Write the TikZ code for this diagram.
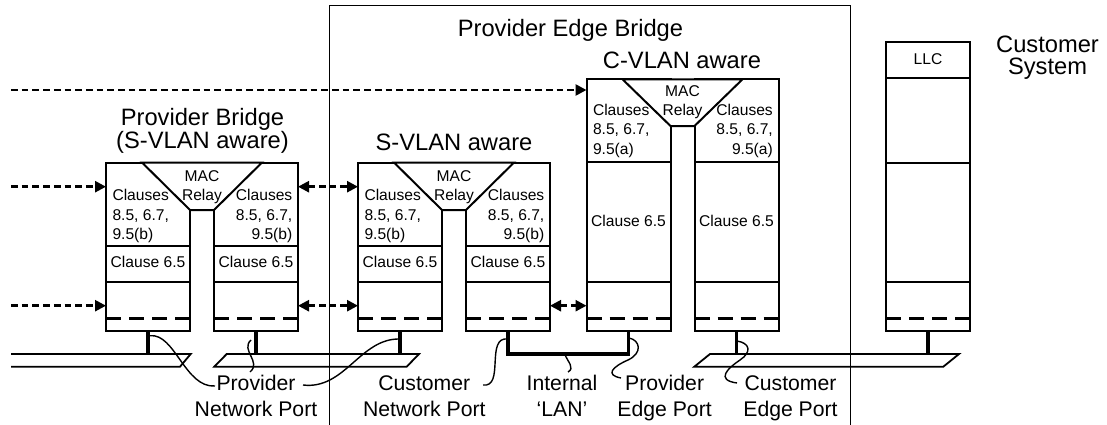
\documentclass[tikz,border=0pt]{standalone}
\usepackage{fontspec}
\setmainfont{Liberation Sans}
\usetikzlibrary{arrows.meta,positioning,calc}
\tikzset{
    port/.style={
        draw,
        rectangle,
        line width=2pt,
        minimum width=84pt,
        inner sep=0pt,
        outer sep=0pt,
        anchor=north west
    },
    relay/.style={
        draw,
        fill=white,
        line width=2pt
    },
    row/.style={line width=2pt},
    phy/.style={line width=3pt, dash pattern=on 15pt off 8pt},
    stem/.style={line width=3.3pt},
    lan/.style={line width=1.8pt, line join=miter},
    flow/.style={
        line width=2.5pt,
        dash pattern=on 6.7pt off 4pt,
        -{Triangle[length=11pt,width=11pt]}
    },
    biflow/.style={
        flow,
        {Triangle[length=11pt,width=11pt]}-{Triangle[length=11pt,width=11pt]}
    },
    title/.style={font=\fontsize{23.7}{22.6}\selectfont, align=center, inner sep=0pt, anchor=base},
    txt/.style={font=\fontsize{15.6}{19.3}\selectfont, inner sep=0pt},
    caption/.style={font=\fontsize{21.2}{26}\selectfont, align=center, inner sep=0pt, anchor=base},
    leader/.style={line width=1.4pt},
}

\begin{document}
\begin{tikzpicture}[x=1pt, y=-1pt]
    \useasboundingbox (0,0) rectangle (1107,425);

    % provider edge bridge frame
    \draw[line width=1pt] (329,425) -- (329,6) -- (850.5,6) -- (850.5,425);

    % the two S-VLAN aware bridges
    \foreach \x/\n in {106/pb, 358/sv}{
        \node[port, minimum height=168pt] (\n-l) at (\x,162.5) {};
        \node[port, minimum height=168pt] (\n-r) at (\x+108,162.5) {};
        \draw[relay] (\x+36,162.5) -- (\x+84,210) -- (\x+108,210) -- (\x+156,162.5) -- cycle;
        \foreach \p in {0,108}{
            \draw[row] (\x+\p,246) -- ++(84,0);
            \draw[row] (\x+\p,282) -- ++(84,0);
            \draw[phy] (\x+\p,318.5) -- ++(84,0);
            \draw[stem] (\x+\p+42,330.5) -- (\x+\p+42,354);
        }
        % base anchor sits on the last line
        \node[txt, anchor=base, align=center] (\n-mac) at (\x+96,200.7) {MAC\\Relay};
        \node[txt, anchor=base west, align=left] (\n-lc) at (\x+6.3,239.3) {Clauses\\8.5, 6.7,\\9.5(b)};
        \node[txt, anchor=base east, align=right] (\n-rc) at (\x+186.5,239.3) {Clauses\\8.5, 6.7,\\9.5(b)};
        \node[txt, anchor=base] (\n-l65) at (\x+42,267.7) {Clause 6.5};
        \node[txt, anchor=base] (\n-r65) at (\x+150,267.7) {Clause 6.5};
    }

    % C-VLAN aware bridge
    \node[port, minimum height=251.2pt] (cv-l) at (586.5,79.3) {};
    \node[port, minimum height=251.2pt] (cv-r) at (694.5,79.3) {};
    \draw[relay] (622.5,79.3) -- (670.5,126) -- (694.5,126) -- (742.5,79.3) -- cycle;
    \foreach \p in {586.5,694.5}{
        \draw[row] (\p,162.3) -- ++(84,0);
        \draw[row] (\p,282) -- ++(84,0);
        \draw[phy] (\p,318.5) -- ++(84,0);
    }
    \node[txt, anchor=base, align=center] (cv-mac) at (682.5,116) {MAC\\Relay};
    \node[txt, anchor=base west, align=left] (cv-lc) at (592.8,154) {Clauses\\8.5, 6.7,\\9.5(a)};
    \node[txt, anchor=base east, align=right] (cv-rc) at (773,154) {Clauses\\8.5, 6.7,\\9.5(a)};
    \node[txt, anchor=base] (cv-l65) at (628.5,226.7) {Clause 6.5};
    \node[txt, anchor=base] (cv-r65) at (736.5,226.7) {Clause 6.5};

    % customer system
    \node[port, minimum height=288pt] (cs) at (886,42.5) {};
    \draw[row] (886,78.5) -- ++(84,0);
    \draw[row] (886,162.5) -- ++(84,0);
    \draw[row] (886,282) -- ++(84,0);
    \draw[phy] (886,318.5) -- ++(84,0);
    \node[txt, anchor=base] (llc) at (928,65) {LLC};

    % LANs
    \draw[lan] (11,354) -- (190.7,354) -- (180,366.7) -- (11,366.7);
    \draw[lan] (226.7,354) -- (419,354) -- (406.7,366.7) -- (214.3,366.7) -- cycle;
    \draw[lan] (710,354) -- (959,354) -- (943.3,366.7) -- (694.3,366.7) -- cycle;
    \draw[stem] (cv-r.south) -- (cv-r.south |- 0,354);
    \draw[stem] (cs.south) -- (cs.south |- 0,354);
    \draw[stem, line join=miter] (sv-r.south) -- (sv-r.south |- 0,354) -| (cv-l.south);

    % frame flows
    \coordinate (src1) at (11,90);
    \coordinate (src2) at (11,186.7);
    \coordinate (src3) at (11,305.7);
    \draw[flow] (src1) -- (src1 -| cv-l.west);
    \draw[flow] (src2) -- (src2 -| pb-l.west);
    \draw[biflow] (pb-r.east |- src2) -- (sv-l.west |- src2);
    \draw[flow] (src3) -- (src3 -| pb-l.west);
    \draw[biflow] (pb-r.east |- src3) -- (sv-l.west |- src3);
    \draw[biflow] (sv-r.east |- src3) -- (cv-l.west |- src3);

    % titles
    \node[title] (pb-title) at (202.5,148.3) {Provider Bridge\\(S-VLAN aware)};
    \node[title] (sv-title) at (454,150) {S-VLAN aware};
    \node[title] (cv-title) at (682,68.3) {C-VLAN aware};
    \node[title] (peb-title) at (570.5,36.7) {Provider Edge Bridge};
    \node[title] (cs-title) at (1047.5,75) {Customer\\System};

    % port captions
    \node[caption] (pnp) at (256,416) {Provider\\Network Port};
    \node[caption] (cnp) at (424.3,416) {Customer\\Network Port};
    \node[caption] (ilan) at (562,416) {Internal\\‘LAN’};
    \node[caption] (pep) at (664.6,416) {Provider\\Edge Port};
    \node[caption] (cep) at (790.5,416) {Customer\\Edge Port};

    % leaders
    \coordinate (pb-l-tap) at (150,335.7);
    \coordinate (pb-r-tap) at (251,340);
    \coordinate (sv-l-tap) at (400,339);
    \coordinate (sv-r-tap) at (508,339);
    \coordinate (ilan-tap) at (565,355);
    \coordinate (cv-l-tap) at (629,338);
    \coordinate (cv-r-tap) at (737,341);
    \draw[leader] (pb-l-tap) .. controls (175,333) and (185,388) .. (215,386);
    \draw[leader] (pb-r-tap) .. controls (240,350) and (262,362) .. (250,372);
    \draw[leader] (303,385) .. controls (345,390) and (360,338) .. (sv-l-tap);
    \draw[leader] (483,385) .. controls (505,388) and (485,336) .. (sv-r-tap);
    \draw[leader] (ilan-tap) .. controls (568,362) and (575,368) .. (568,372);
    \draw[leader] (cv-l-tap) .. controls (640,340) and (643,353) .. (628,360) .. controls (612,367) and (605,375) .. (621,378);
    \draw[leader] (cv-r-tap) .. controls (750,343) and (752,352) .. (740,360) .. controls (728,368) and (715,380) .. (737,383);
\end{tikzpicture}
\end{document}
